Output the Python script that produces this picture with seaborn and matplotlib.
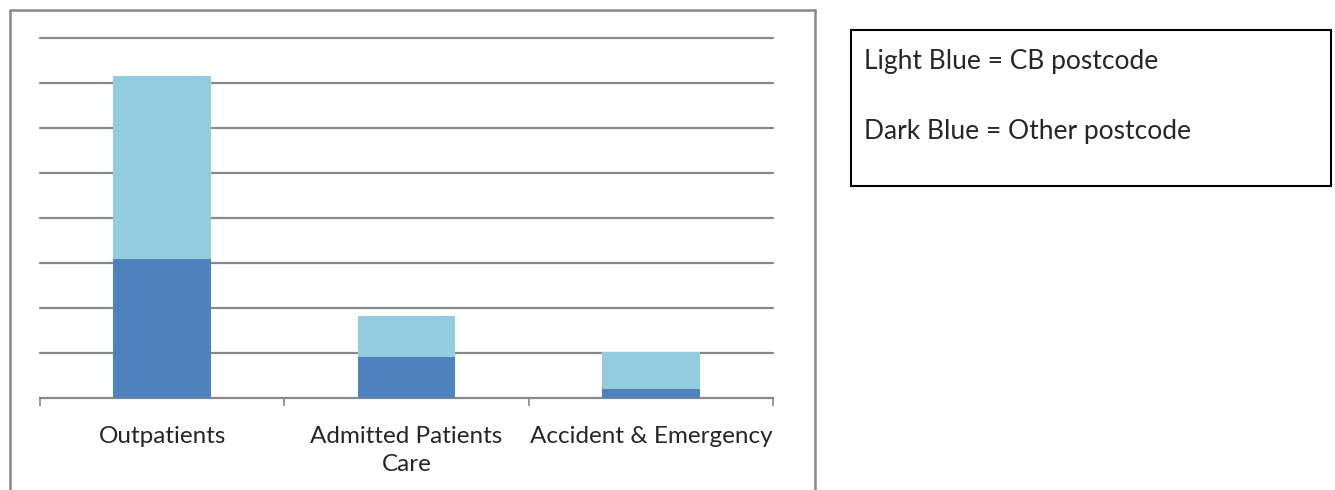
import numpy as np
import pandas as pd
import seaborn as sns
import matplotlib.pyplot as plt
from matplotlib.patches import Rectangle
from matplotlib.lines import Line2D

# Data (units = gridline steps)
categories = ["Outpatients", "Admitted Patients\nCare", "Accident & Emergency"]
other_postcode = [3.09, 0.91, 0.20]   # dark blue
cb_postcode = [4.07, 0.91, 0.82]      # light blue, stacked on top
totals = [o + c for o, c in zip(other_postcode, cb_postcode)]

dark_blue = "#4F81BD"
light_blue = "#93CDDD"
grid_grey = "#888888"

sns.set_style("white")
plt.rcParams["font.family"] = ["Lato", "DejaVu Sans"]

df = pd.DataFrame({"category": categories, "total": totals, "other": other_postcode})

fig = plt.figure(figsize=(13.35, 4.9), dpi=100)
ax = fig.add_axes([40 / 1335, 1 - 398 / 490, (773 - 40) / 1335, (398 - 38) / 490])

sns.barplot(data=df, x="category", y="total", color=light_blue, width=0.4,
            saturation=1, linewidth=0, ax=ax, zorder=3)
sns.barplot(data=df, x="category", y="other", color=dark_blue, width=0.4,
            saturation=1, linewidth=0, ax=ax, zorder=3)

ax.set_xlim(-0.5, 2.5)
ax.set_ylim(0, 8)
ax.set_yticks(np.arange(1, 9))
ax.set_yticklabels([])
ax.tick_params(axis="y", length=0)
ax.yaxis.grid(True, color=grid_grey, linewidth=1.6, zorder=0)
for gl in ax.get_ygridlines():
    gl.set_clip_on(False)
ax.set_axisbelow(True)
ax.set_xlabel("")
ax.set_ylabel("")

for side in ["left", "right", "top"]:
    ax.spines[side].set_visible(False)
ax.spines["bottom"].set_color(grid_grey)
ax.spines["bottom"].set_linewidth(1.6)

ax.set_xticks([-0.5, 0.5, 1.5, 2.5], minor=True)
ax.tick_params(axis="x", which="minor", bottom=True, length=6, width=1.2, color=grid_grey)
ax.tick_params(axis="x", which="major", length=0, pad=20, labelsize=17.5)
for lbl in ax.get_xticklabels():
    lbl.set_linespacing(1.45)

# outer chart frame (cut off at the bottom in the reference)
fx0, fx1 = 10 / 1335, 815 / 1335
fy1 = 1 - 10 / 490
for xs, ys in [([fx0, fx0], [-0.1, fy1]), ([fx0, fx1], [fy1, fy1]), ([fx1, fx1], [fy1, -0.1])]:
    fig.add_artist(Line2D(xs, ys, color=grid_grey, linewidth=1.8, transform=fig.transFigure))

# text box acting as legend
bx0, bx1 = 851 / 1335, 1331 / 1335
by0, by1 = 1 - 186 / 490, 1 - 30 / 490
fig.add_artist(Rectangle((bx0, by0), bx1 - bx0, by1 - by0, fill=False,
                         edgecolor="black", linewidth=1.5, transform=fig.transFigure))
fig.text(864 / 1335, 1 - 62 / 490, "Light Blue = CB postcode", fontsize=19, va="center")
fig.text(864 / 1335, 1 - 131 / 490, "Dark Blue = Other postcode", fontsize=19, va="center")

plt.savefig("out.png", dpi=100)
